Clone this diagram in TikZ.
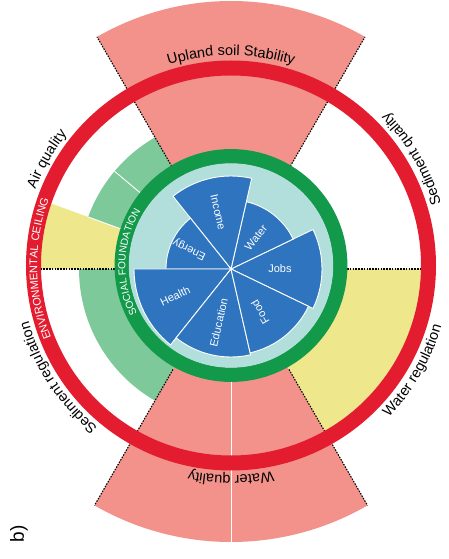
\documentclass[tikz,border=0pt]{standalone}
\usepackage{fontspec}
\setmainfont{Liberation Sans}
\usetikzlibrary{decorations.text}
\definecolor{pinkc}{HTML}{F3928B}
\definecolor{redc}{HTML}{E31D2F}
\definecolor{dgreen}{HTML}{13994A}
\definecolor{lgreen}{HTML}{7DC99A}
\definecolor{yellowc}{HTML}{EEE78B}
\definecolor{tealc}{HTML}{B2DEDB}
\definecolor{bluec}{HTML}{2E74BF}
\newcommand\ringsec[5]{\path[#5] (#1:#3) arc[start angle=#1,end angle=#2,radius=#3] -- (#2:#4) arc[start angle=#2,end angle=#1,radius=#4] -- cycle;}
\newcommand\piesec[4]{\path[#4] (0,0) -- (#1:#3) arc[start angle=#1,end angle=#2,radius=#3] -- cycle;}
\begin{document}
\begin{tikzpicture}[x=1pt,y=1pt,
  dotline/.style={black,line width=1.1pt,dash pattern=on 1.5pt off 1.3pt},
  sep/.style={draw=white,line width=0.9pt},
  pielab/.style={text=white,font=\fontsize{11}{13}\selectfont,inner sep=0pt},
  outerlab/.style={decorate,decoration={text along path,text align=center,text={|\fontsize{14.5}{17}\selectfont|#1}}},
  ringlab/.style 2 args={decorate,decoration={text along path,text align=center,text color=white,text={|\fontsize{#1}{12}\selectfont|#2}}},
]
\useasboundingbox (-231,-290) rectangle (217,269);
\fill[white] (-231,-290) rectangle (217,269);
% pink wedges
\ringsec{60}{120}{105pt}{268pt}{fill=pinkc}
\ringsec{240}{300}{105pt}{273pt}{fill=pinkc}
\draw[sep,line width=1pt] (270:112pt) -- (270:273pt);
% light green
\ringsec{120}{140}{105pt}{152pt}{fill=lgreen}
\ringsec{140}{160}{105pt}{152pt}{fill=lgreen}
\ringsec{180}{240}{105pt}{152pt}{fill=lgreen}
\draw[sep] (140:110pt) -- (140:152pt);
% yellow
\ringsec{160}{180}{105pt}{193pt}{fill=yellowc}
\draw[sep] (160:110pt) -- (160:152pt);
\ringsec{-60}{0}{105pt}{193pt}{fill=yellowc}
% dotted boundaries
\draw[dotline] (60:116pt) -- (60:268pt);
\draw[dotline] (120:116pt) -- (120:268pt);
\draw[dotline] (240:116pt) -- (240:273pt);
\draw[dotline] (300:116pt) -- (300:273pt);
\draw[dotline] (0:116pt) -- (0:190pt);
\draw[dotline] (180:116pt) -- (180:190pt);
% rings
\begin{scope}[shift={(0,3.5)}]
\draw[redc,line width=15pt] (0,0) circle[radius=197.5pt];
\draw[dgreen,line width=14.5pt] (0,0) circle[radius=109.2pt];
\fill[tealc] (0,0) circle[radius=102.2pt];
\path[ringlab={11}{ENVIRONMENTAL CEILING}] (222:193.8pt) arc[start angle=222,end angle=140,radius=193.8pt];
\path[ringlab={10.2}{SOCIAL FOUNDATION}] (215:105.6pt) arc[start angle=215,end angle=141,radius=105.6pt];
\path[outerlab={Upland soil Stability}] (132:210pt) arc[start angle=132,end angle=48,radius=210pt];
\path[outerlab={Air quality}] (175:210pt) arc[start angle=175,end angle=125,radius=210pt];
\path[outerlab={Sediment regulation}] (252:210pt) arc[start angle=252,end angle=174,radius=210pt];
\path[outerlab={Water quality}] (300:210pt) arc[start angle=300,end angle=240,radius=210pt];
\path[outerlab={Sediment quality}] (4:219pt) arc[start angle=4,end angle=57,radius=219pt];
\path[outerlab={Water regulation}] (-57:219pt) arc[start angle=-57,end angle=-3,radius=219pt];
\end{scope}
% social foundation pie
\piesec{-25.714}{25.714}{91pt}{fill=bluec,sep}
\piesec{25.714}{77.143}{69pt}{fill=bluec,sep}
\piesec{77.143}{128.571}{93pt}{fill=bluec,sep}
\piesec{128.571}{180}{65pt}{fill=bluec,sep}
\piesec{180}{231.429}{97pt}{fill=bluec,sep}
\piesec{231.429}{282.857}{88pt}{fill=bluec,sep}
\piesec{282.857}{334.286}{86pt}{fill=bluec,sep}
\node[pielab,rotate=0] (jobs) at (0:49pt) {Jobs};
\node[pielab,rotate=51.4] (water) at (51.4:40pt) {Water};
\node[pielab,rotate=-77.1] (income) at (102.9:58pt) {Income};
\node[pielab,rotate=154.3] (energy) at (154.3:46pt) {Energy};
\node[pielab,rotate=25.7] (health) at (205.7:62pt) {Health};
\node[pielab,rotate=77.1] (education) at (257.1:55pt) {Education};
\node[pielab,rotate=120] (food) at (304:52pt) {Food};
\node[font=\fontsize{19}{21}\selectfont,rotate=90,inner sep=0pt] (blab) at (-212,-265) {b)};
\end{tikzpicture}
\end{document}
